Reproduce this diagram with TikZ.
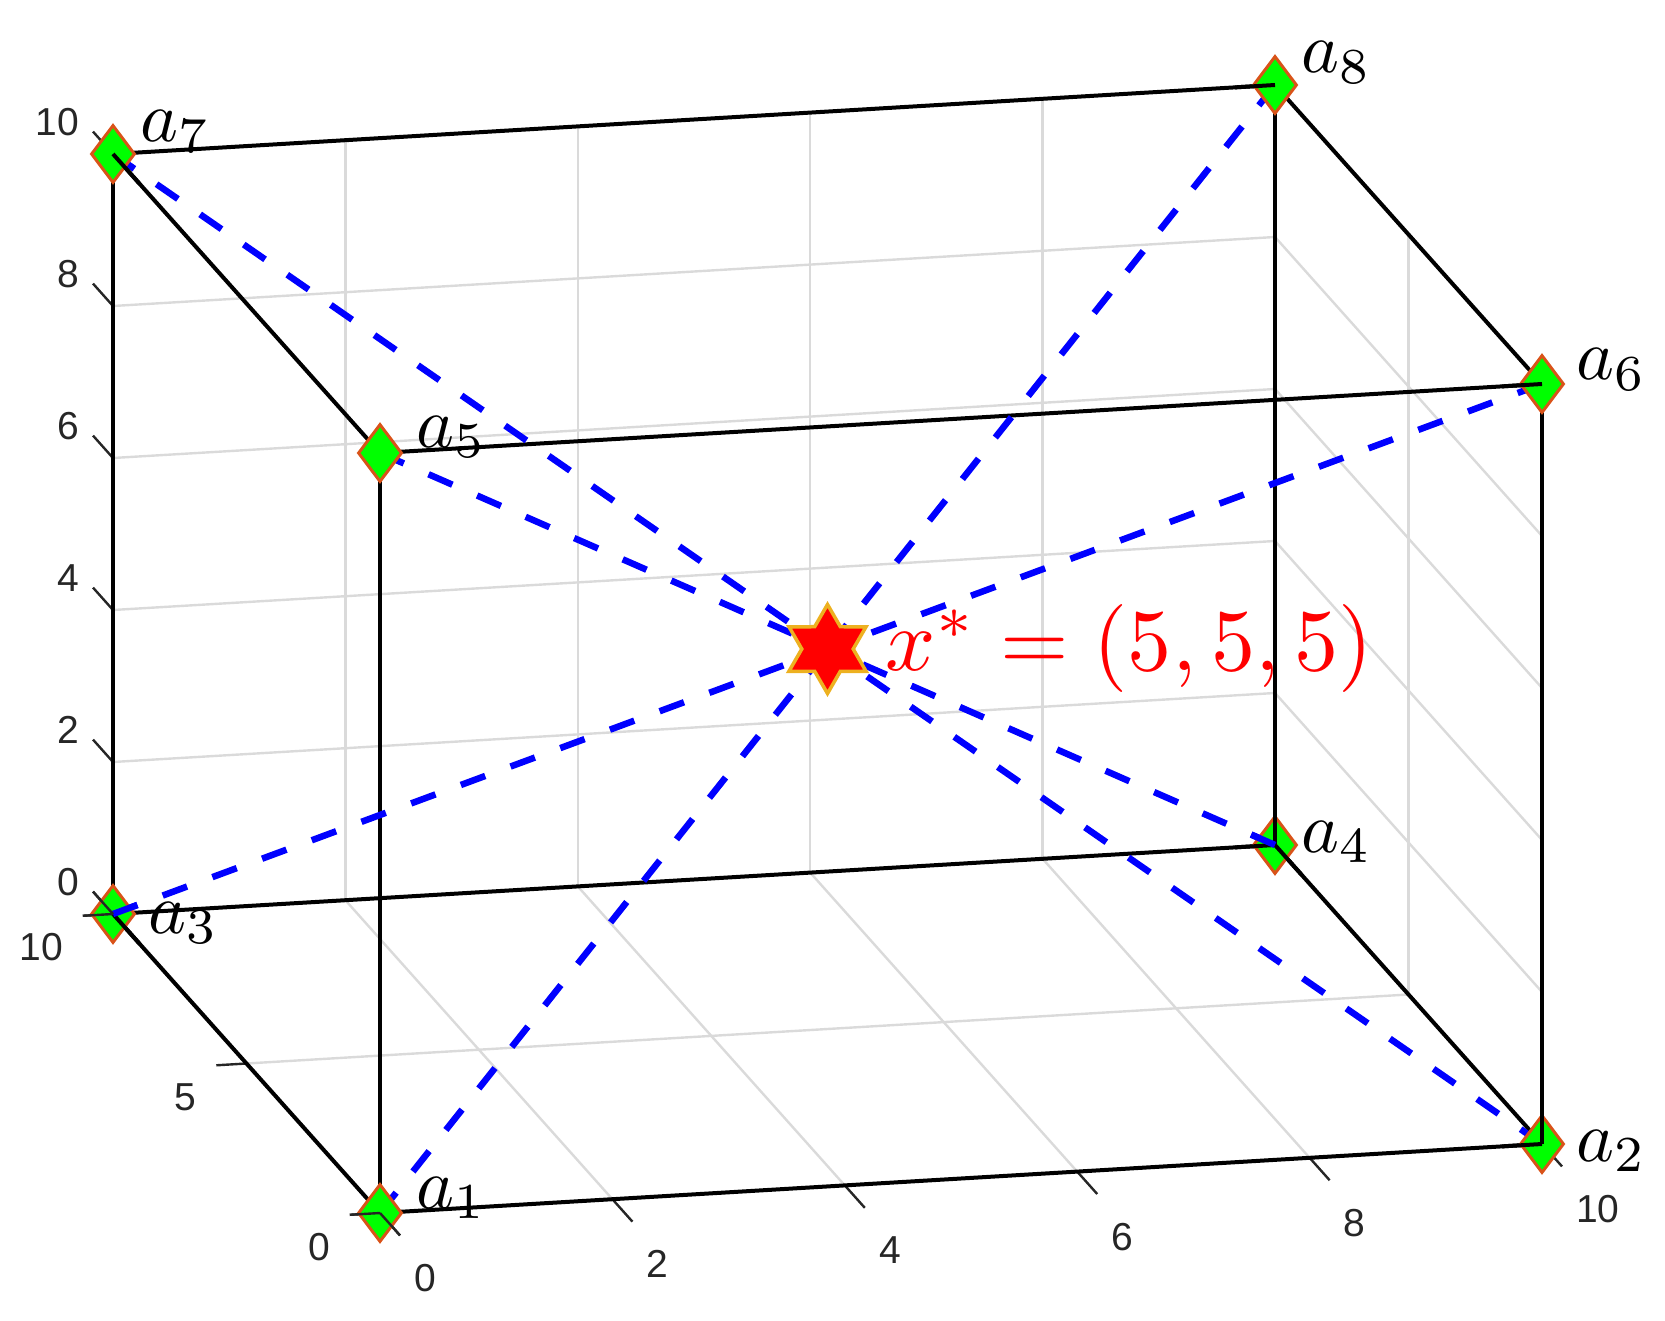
\documentclass[tikz,border=0pt]{standalone}
\usepackage[no-math]{fontspec}
\newfontfamily\ticksf{Liberation Sans}
\usetikzlibrary{shapes.geometric,calc}
\definecolor{gridc}{RGB}{218,218,218}
\definecolor{tickc}{RGB}{38,38,38}
\definecolor{medge}{RGB}{217,83,25}
\definecolor{mfill}{RGB}{0,255,0}
\definecolor{sedge}{RGB}{237,177,32}
\definecolor{dblue}{RGB}{0,0,255}
\begin{document}
\begin{tikzpicture}[x=1pt,y=-1pt,
  gridline/.style={gridc,line width=2.4pt},
  edge/.style={black,line width=4pt},
  diag/.style={dblue,line width=6.5pt,dash pattern=on 26pt off 27pt},
  diagsolid/.style={dblue,line width=6.5pt},
  tickmark/.style={tickc,line width=2.4pt},
  ticklab/.style={text=tickc,font=\ticksf\fontsize{39}{41}\selectfont,inner sep=0pt},
  vmark/.style={diamond,draw=medge,fill=mfill,line width=3pt,minimum width=44pt,minimum height=58pt,inner sep=0pt},
  vlab/.style={scale=7.2,transform shape,inner sep=0pt,anchor=base west},
  starmark/.style={star,star points=6,star point ratio=1.732,draw=sedge,fill=red,line width=3.5pt,minimum size=89pt,inner sep=0pt}
]
\useasboundingbox (0,0) rectangle (1665,1321);
\begin{scope}[shift={(380,1213)},x={(116.2pt,6.9pt)},y={(-26.7pt,29.9pt)},z={(0pt,76pt)}]
  \coordinate (a1) at (0,0,0);
  \coordinate (a2) at (10,0,0);
  \coordinate (a3) at (0,10,0);
  \coordinate (a4) at (10,10,0);
  \coordinate (a5) at (0,0,10);
  \coordinate (a6) at (10,0,10);
  \coordinate (a7) at (0,10,10);
  \coordinate (a8) at (10,10,10);
  \coordinate (xs) at (5,5,5);
  % grid
  \foreach \k in {2,4,6,8} {
    \draw[gridline] (\k,10,0) -- (\k,10,10);
    \draw[gridline] (0,10,\k) -- (10,10,\k);
    \draw[gridline] (\k,0,0) -- (\k,10,0);
    \draw[gridline] (10,0,\k) -- (10,10,\k);
  }
  \draw[gridline] (0,5,0) -- (10,5,0);
  \draw[gridline] (10,5,0) -- (10,5,10);
  % ticks
  \foreach \k in {0,2,4,6,8,10} {
    \draw[tickmark] (\k,0,0) -- (\k,-0.75,0);
    \draw[tickmark] (0,10,\k) -- (0,10.75,\k);
  }
  \foreach \k in {0,5,10} {
    \draw[tickmark] (0,\k,0) -- (-0.26,\k,0);
  }
  % cube edges
  \draw[edge] (a1) -- (a2);
  \draw[edge] (a1) -- (a3);
  \draw[edge] (a2) -- (a4);
  \draw[edge] (a3) -- (a4);
  \draw[edge] (a5) -- (a6);
  \draw[edge] (a5) -- (a7);
  \draw[edge] (a6) -- (a8);
  \draw[edge] (a7) -- (a8);
  \draw[edge] (a1) -- (a5);
  \draw[edge] (a2) -- (a6);
  \draw[edge] (a3) -- (a7);
  \draw[edge] (a4) -- (a8);
  % dashed diagonals
  \foreach \i in {1,...,8} {
    \draw[diag] (a\i) -- (xs);
  }
  % markers
  \foreach \i in {1,...,8} {
    \node[vmark] (m\i) at (a\i) {};
  }
  % segments drawn over markers
  \draw[edge] (a7) -- ($(a7)!40pt!(a5)$);
  \draw[edge] (a3) -- ($(a3)!40pt!(a1)$);
  \draw[edge] (a2) -- ($(a2)!40pt!(a1)$);
  \draw[edge] (a2) -- ($(a2)!40pt!(a6)$);
  \draw[edge] (a8) -- ($(a8)!40pt!(a7)$);
  \draw[edge] (a6) -- ($(a6)!40pt!(a5)$);
  \draw[edge] (a4) -- ($(a4)!40pt!(a3)$);
  \draw[edge] (a4) -- ($(a4)!40pt!(a2)$);
  \draw[edge] (a4) -- ($(a4)!40pt!(a8)$);
  \draw[diagsolid] (a3) -- ($(a3)!26pt!(xs)$);
  \draw[diagsolid] (a4) -- ($(a4)!26pt!(xs)$);
  \draw[tickmark] (0,0,0) -- (0,-0.75,0);
  \draw[tickmark] (0,0,0) -- (-0.26,0,0);
  \draw[tickmark] (0,10,0) -- (-0.26,10,0);
  \draw[tickmark] (0,10,0) -- (0,10.75,0);
  % optimum
  \node[starmark] (xsm) at (xs) {};
\end{scope}
% tick labels
\node[ticklab,anchor=west] (xt0) at (414,1278) {0};
\node[ticklab,anchor=west] (xt2) at (646.4,1264.2) {2};
\node[ticklab,anchor=west] (xt4) at (878.8,1250.4) {4};
\node[ticklab,anchor=west] (xt6) at (1111.2,1236.6) {6};
\node[ticklab,anchor=west] (xt8) at (1343.6,1222.8) {8};
\node[ticklab,anchor=west] (xt10) at (1576,1209) {10};
\node[ticklab,anchor=east] (yt0) at (330,1247) {0};
\node[ticklab,anchor=east] (yt5) at (196.5,1097) {5};
\node[ticklab,anchor=east] (yt10) at (63,947) {10};
\node[ticklab,anchor=east] (zt0) at (79,882) {0};
\node[ticklab,anchor=east] (zt2) at (79,730) {2};
\node[ticklab,anchor=east] (zt4) at (79,578) {4};
\node[ticklab,anchor=east] (zt6) at (79,426) {6};
\node[ticklab,anchor=east] (zt8) at (79,274) {8};
\node[ticklab,anchor=east] (zt10) at (79,122) {10};
% vertex labels
\node[vlab] (l1) at (415,1208) {$a_1$};
\node[vlab] (l2) at (1575,1161) {$a_2$};
\node[vlab] (l3) at (147,933) {$a_3$};
\node[vlab] (l4) at (1300,852) {$a_4$};
\node[vlab] (l5) at (415,447) {$a_5$};
\node[vlab] (l6) at (1575,380) {$a_6$};
\node[vlab] (l7) at (139,142) {$a_7$};
\node[vlab] (l8) at (1300,73) {$a_8$};
% optimum label
\node[anchor=base west,scale=8.8,transform shape,inner sep=0pt,text=red] (xl) at (884,670) {$x^*=(5,5,5)$};
\end{tikzpicture}
\end{document}
